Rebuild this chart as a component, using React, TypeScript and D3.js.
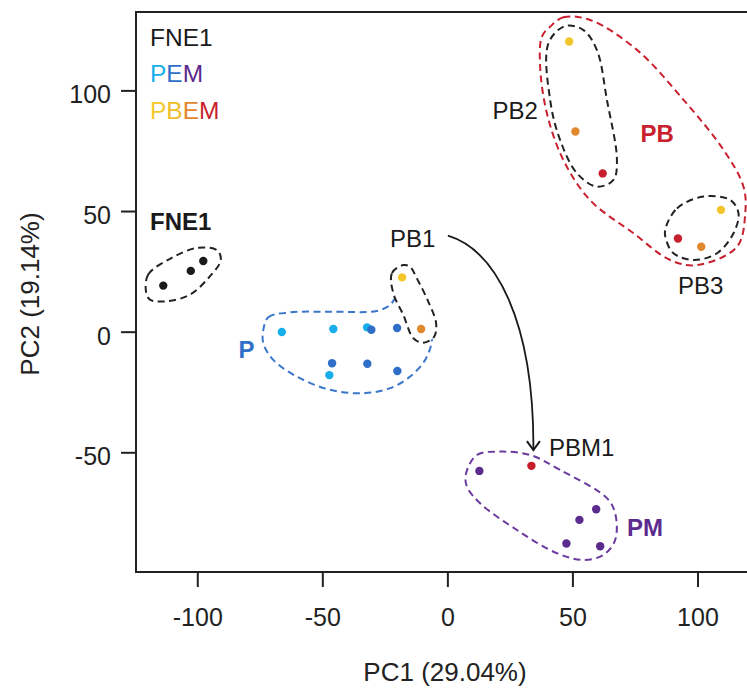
import React from "react";
import * as d3 from "d3";

// ---- data (PC1, PC2 per sample) ----
const groupKeys = ["FNE1", "PEM-P", "PEM-E", "PEM-M", "PBEM-P", "PBEM-E", "PBEM-M"];
const groupColors = ["#1a1a1a", "#17aeea", "#2f6fc8", "#5c2b8e", "#f2c52a", "#e0892c", "#c81f2d"];

const pc1 = [-113.8, -102.8, -97.8, -66.4, -45.8, -32.3, -47.4, -30.6, -20.3, -46.3, -32.2, -20.2, 12.6, 59.3, 52.6, 47.4, 60.9, -18.3, 48.5, 109.2, -10.7, 51.0, 101.3, 61.9, 92.0, 33.4];
const pc2 = [19.3, 25.4, 29.5, 0.1, 1.3, 2.0, -17.8, 1.0, 1.7, -12.9, -13.1, -16.1, -57.5, -73.4, -77.8, -87.6, -88.7, 22.7, 120.5, 50.7, 1.3, 83.2, 35.4, 65.8, 38.8, -55.4];
const sampleGroup = ["FNE1", "FNE1", "FNE1", "PEM-P", "PEM-P", "PEM-P", "PEM-P", "PEM-E", "PEM-E", "PEM-E", "PEM-E", "PEM-E", "PEM-M", "PEM-M", "PEM-M", "PEM-M", "PEM-M", "PBEM-P", "PBEM-P", "PBEM-P", "PBEM-E", "PBEM-E", "PBEM-E", "PBEM-M", "PBEM-M", "PBEM-M"];

const xTicks = [-100, -50, 0, 50, 100];
const yTicks = [-50, 0, 50, 100];

// enclosure outlines, in PC units
const hullFNE1: [number, number][] = [[-120.7, 16.9], [-119.8, 23.9], [-111.1, 30.4], [-100.4, 34.9], [-92.2, 33.9], [-90.8, 29.8], [-95.1, 23.2], [-103.1, 15.6], [-112.4, 12.8], [-119.1, 13.5]];
const hullP: [number, number][] = [[-73.8, 0.9], [-71.8, 6.2], [-63.1, 8.2], [-47.1, 8.5], [-28.4, 8.8], [-23.1, 11.3], [-20.4, 14.7], [-15.1, 15.4], [-7.9, 7.1], [-6.4, -3.2], [-9.1, -11.5], [-15.1, -18.4], [-23.1, -23.2], [-33.8, -25.3], [-47.1, -23.9], [-60.4, -18.4], [-69.8, -11.5], [-73.8, -4.6]];
const hullPB1: [number, number][] = [[-17.8, 27.8], [-22.4, 24.4], [-21.8, 16.1], [-17.8, 7.1], [-13.8, -2.5], [-9.8, -4.4], [-5.5, -1.9], [-4.7, 3.7], [-7.8, 12.6], [-12.4, 22.3], [-15.1, 27.1]];
const hullPB2: [number, number][] = [[46.9, 126.9], [40.2, 119.7], [40.9, 96.2], [44.9, 79.6], [51.6, 65.9], [59.6, 60.3], [66.2, 63.1], [67.6, 71.4], [63.6, 96.2], [59.6, 116.9], [54.2, 125.2]];
const hullPB: [number, number][] = [[40.9, 126.6], [46.2, 130.5], [56.9, 129.4], [75.6, 117.0], [94.2, 96.3], [110.2, 75.6], [118.2, 60.3], [118.9, 49.3], [115.6, 35.4], [99.6, 27.8], [88.9, 29.9], [74.2, 41.0], [56.9, 54.7], [46.2, 71.3], [39.6, 90.7], [36.9, 110.0], [37.6, 122.5]];
const hullPB3: [number, number][] = [[86.9, 42.4], [91.6, 51.3], [102.2, 56.2], [112.9, 54.8], [116.2, 49.3], [114.2, 41.0], [107.6, 32.7], [98.2, 29.9], [90.2, 32.7], [87.3, 38.2]];
const hullPM: [number, number][] = [[7.3, -58.5], [11.6, -50.9], [20.9, -49.5], [32.9, -50.9], [44.9, -57.1], [63.6, -68.8], [66.9, -75.1], [66.9, -86.1], [62.2, -92.3], [54.2, -94.4], [43.6, -91.6], [27.6, -82.0], [12.9, -70.9], [7.6, -64.0]];

// arrow PB1 -> PBM1 (start, control1, control2, end) in PC units
const arrowPts: [number, number][] = [[0, 40.0], [18.9, 34.1], [34.5, 5.1], [34.2, -48.9]];

const FONT = "'Liberation Sans', Arial, Helvetica, sans-serif";

export default function App() {
  const W = 747, H = 689;
  const left = 136, right = 760, top = 12, bottom = 572;
  const x = d3.scaleLinear().domain([-124.7, 124.8]).range([left, right]);
  const y = d3.scaleLinear().domain([-99.4, 132.7]).range([bottom, top]);
  const colorOf = d3.scaleOrdinal<string, string>().domain(groupKeys).range(groupColors);

  const closed = d3
    .line<[number, number]>()
    .x((d) => x(d[0]))
    .y((d) => y(d[1]))
    .curve(d3.curveCatmullRomClosed.alpha(0.5));

  const p = d3.path();
  p.moveTo(x(arrowPts[0][0]), y(arrowPts[0][1]));
  p.bezierCurveTo(
    x(arrowPts[1][0]), y(arrowPts[1][1]),
    x(arrowPts[2][0]), y(arrowPts[2][1]),
    x(arrowPts[3][0]), y(arrowPts[3][1])
  );
  const tipX = x(arrowPts[3][0]);
  const tipY = y(arrowPts[3][1]);

  const dash = "7,4.5";
  const idx = d3.range(pc1.length);

  return (
    <svg width={W} height={H} style={{ position: "absolute", left: 0, top: 0, background: "#fff" }} fontFamily={FONT}>
      <rect x={0} y={0} width={W} height={H} fill="#fff" />
      {/* enclosures */}
      <path d={closed(hullP) || ""} fill="none" stroke="#3a76c9" strokeWidth={2} strokeDasharray={dash} />
      <path d={closed(hullPB1) || ""} fill="#fff" stroke="#222" strokeWidth={2} strokeDasharray={dash} />
      <path d={closed(hullFNE1) || ""} fill="none" stroke="#222" strokeWidth={2} strokeDasharray={dash} />
      <path d={closed(hullPB) || ""} fill="none" stroke="#c8202e" strokeWidth={2} strokeDasharray={dash} />
      <path d={closed(hullPB2) || ""} fill="none" stroke="#222" strokeWidth={2} strokeDasharray={dash} />
      <path d={closed(hullPB3) || ""} fill="none" stroke="#222" strokeWidth={2} strokeDasharray={dash} />
      <path d={closed(hullPM) || ""} fill="none" stroke="#6a3a9e" strokeWidth={2} strokeDasharray={dash} />

      {/* arrow */}
      <path d={p.toString()} fill="none" stroke="#1a1a1a" strokeWidth={1.8} />
      <path d={`M${tipX - 6.5},${tipY - 9}L${tipX},${tipY}L${tipX + 6.5},${tipY - 9}`} fill="none" stroke="#1a1a1a" strokeWidth={2} />

      {/* points */}
      {idx.map((i) => (
        <circle key={i} cx={x(pc1[i])} cy={y(pc2[i])} r={4.2} fill={colorOf(sampleGroup[i])} />
      ))}

      {/* axes */}
      <path d={`M${right},${top}H${left}V${bottom}H${right}`} fill="none" stroke="#222" strokeWidth={2} />
      {xTicks.map((t) => (
        <g key={"x" + t}>
          <line x1={x(t)} x2={x(t)} y1={bottom} y2={bottom + 15} stroke="#222" strokeWidth={2} />
          <text x={x(t)} y={625.5} textAnchor="middle" fontSize={25} fill="#222">{t}</text>
        </g>
      ))}
      {yTicks.map((t) => (
        <g key={"y" + t}>
          <line x1={left - 15} x2={left} y1={y(t)} y2={y(t)} stroke="#222" strokeWidth={2} />
          <text x={111} y={y(t) + 12.5} textAnchor="end" fontSize={25} fill="#222">{t}</text>
        </g>
      ))}
      <text x={445} y={680.5} textAnchor="middle" fontSize={26} fill="#222">PC1 (29.04%)</text>
      <text transform={`translate(39,294) rotate(-90)`} textAnchor="middle" fontSize={26} fill="#222">PC2 (19.14%)</text>

      {/* legend */}
      <text x={150} y={46} fontSize={24.5} fill="#1a1a1a">FNE1</text>
      <text x={150} y={82} fontSize={24.5}>
        <tspan fill="#17aeea">P</tspan>
        <tspan fill="#2f6fc8">E</tspan>
        <tspan fill="#5c2b8e">M</tspan>
      </text>
      <text x={150} y={118.5} fontSize={24.5}>
        <tspan fill="#f5c82b">P</tspan>
        <tspan fill="#f0bd2b">B</tspan>
        <tspan fill="#e3852c">E</tspan>
        <tspan fill="#c81f2d">M</tspan>
      </text>

      {/* cluster labels */}
      <text x={150} y={230} fontSize={24} fontWeight="bold" fill="#1a1a1a">FNE1</text>
      <text x={238.5} y={357.5} fontSize={24} fontWeight="bold" fill="#2f6fc8">P</text>
      <text x={390} y={247} fontSize={24} fill="#1a1a1a">PB1</text>
      <text x={492.5} y={119.3} fontSize={24} fill="#1a1a1a">PB2</text>
      <text x={640.5} y={141.7} fontSize={24} fontWeight="bold" fill="#c8202e">PB</text>
      <text x={678} y={294} fontSize={24} fill="#1a1a1a">PB3</text>
      <text x={549} y={456} fontSize={24} fill="#1a1a1a">PBM1</text>
      <text x={627} y={536} fontSize={24} fontWeight="bold" fill="#5c2b8e">PM</text>
    </svg>
  );
}
